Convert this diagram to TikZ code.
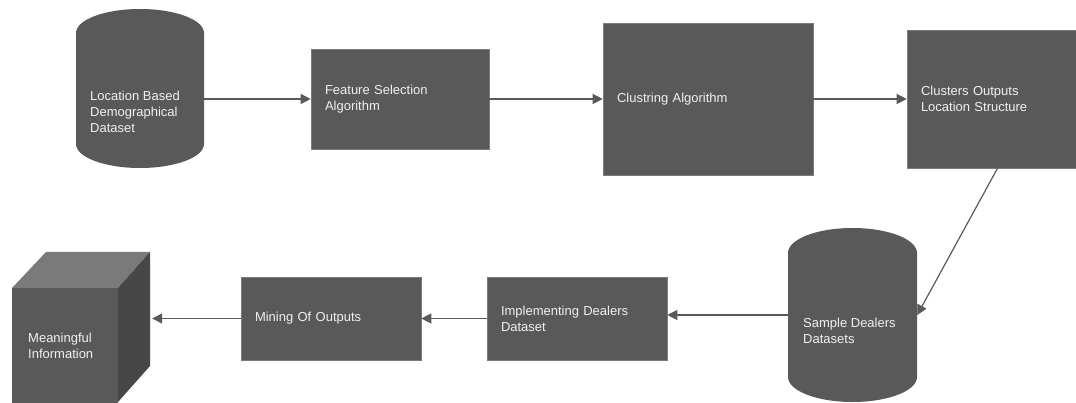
\documentclass[tikz,border=0pt]{standalone}
\usepackage{fontspec}
\setmainfont{Liberation Sans}
\usetikzlibrary{arrows.meta}
\definecolor{boxgray}{HTML}{595959}
\definecolor{topgray}{HTML}{7A7A7A}
\definecolor{sidegray}{HTML}{474747}
\definecolor{txt}{HTML}{F0F0F0}
\tikzset{
  box/.style={rectangle, fill=boxgray, draw=boxgray!80!white, line width=0.6pt, text=txt,
    align=left, inner xsep=14pt, inner ysep=0pt, font=\fontsize{13}{16}\selectfont},
  holder/.style={rectangle, inner sep=0pt},
  lbl/.style={text=txt, align=left, anchor=west, inner sep=0pt, font=\fontsize{13}{16}\selectfont},
  conn/.style={draw=boxgray, line width=1.2pt, -{Triangle[length=10pt,width=10pt]}},
}
\begin{document}
\begin{tikzpicture}[x=1pt,y=-1pt]
\useasboundingbox (0,0) rectangle (1076,403);
% cylinder 1
\fill[boxgray] (76,33) arc[start angle=180,end angle=0,x radius=64pt,y radius=24pt]
  -- (204,144) arc[start angle=0,end angle=-180,x radius=64pt,y radius=24pt] -- cycle;
\node[holder, minimum width=128pt, minimum height=159pt] (cyl1) at (140,88.5) {};
\node[lbl] (cyl1t) at (90,111.5) {Location Based\\Demographical\\Dataset};
% boxes row 1
\node[box, minimum width=178pt, minimum height=100pt, text width=150pt] (fs) at (400,99) {Feature Selection\\Algorithm};
\node[box, minimum width=210pt, minimum height=152pt, text width=182pt] (ca) at (708,99) {Clustring Algorithm};
\node[box, minimum width=171pt, minimum height=138pt, text width=143pt] (co) at (992.5,99) {Clusters Outputs\\Location Structure};
% sample cylinder
\fill[boxgray] (788,253) arc[start angle=180,end angle=0,x radius=64.5pt,y radius=25pt]
  -- (917,377) arc[start angle=0,end angle=-180,x radius=64.5pt,y radius=25pt] -- cycle;
\node[holder, minimum width=129pt, minimum height=174pt] (sd) at (852.5,315) {};
\node[lbl] (sdt) at (803,330.5) {Sample Dealers\\Datasets};
% row 2 boxes
\node[box, minimum width=180pt, minimum height=83pt, text width=152pt] (imp) at (577,318.5) {Implementing Dealers\\Dataset};
\node[box, minimum width=180pt, minimum height=83pt, text width=152pt] (mo) at (331,318.5) {Mining Of Outputs};
% cube
\fill[boxgray] (12,288) -- (118,288) -- (118,403) -- (12,403) -- cycle;
\fill[topgray] (12,288) -- (46,252) -- (150,252) -- (118,288) -- cycle;
\fill[sidegray] (118,288) -- (150,252) -- (150,366) -- (118,402) -- cycle;
\node[holder, minimum width=140pt, minimum height=151pt] (cube) at (82,327.5) {};
\node[lbl] (cubet) at (28,346) {Meaningful\\Information};
% connectors
\draw[conn] (cyl1.east |- fs.west) -- (fs.west);
\draw[conn] (fs.east) -- (ca.west);
\draw[conn] (ca.east) -- (co.west);
\draw[conn] ([xshift=5pt]co.south) -- (sd.east);
\draw[conn] (sd.west) -- (imp.east |- sd.west);
\draw[conn] (imp.west) -- (mo.east);
\draw[conn] (mo.west) -- (mo.west -| cube.east);
\end{tikzpicture}
\end{document}
